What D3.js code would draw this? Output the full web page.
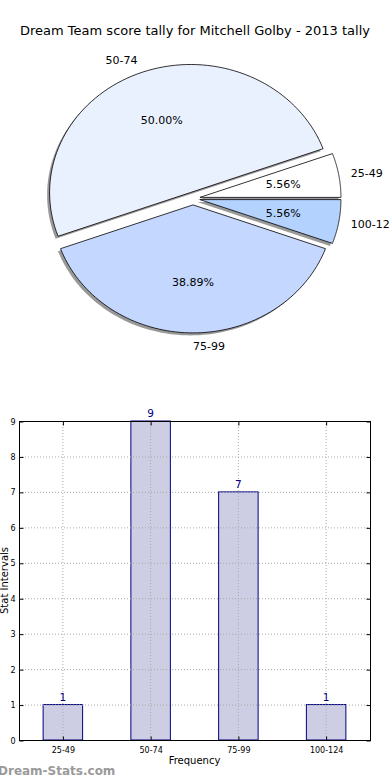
<!DOCTYPE html>
<html><head><meta charset="utf-8">
<script src="https://cdn.jsdelivr.net/npm/d3@7"></script>
<style>body{margin:0;background:#fff}svg{display:block}</style>
</head><body>
<script>
const title = "Dream Team score tally for Mitchell Golby - 2013 tally";
const categories = ["25-49", "50-74", "75-99", "100-124"];
const counts = [1, 9, 7, 1];
const pieColors = ["#ffffff", "#e9f0fe", "#c4d7fe", "#b3d3fe"];
const yTicks = [0, 1, 2, 3, 4, 5, 6, 7, 8, 9];
const xAxisLabel = "Frequency";
const yAxisLabel = "Stat Intervals";
const watermark = "Dream-Stats.com";

const W = 390, H = 780;
const svg = d3.select("body").append("svg").attr("width", W).attr("height", H);
const font = "DejaVu Sans, sans-serif";

svg.append("text").attr("x", 195).attr("y", 35).attr("text-anchor", "middle")
  .attr("font-family", font).attr("font-size", 13).attr("fill", "#000").text(title);

// ---- Pie (elliptical, matplotlib-style, counterclockwise from 3 o'clock) ----
const cx = 193, cy = 198.5, rx = 141, ry = 128, explode = 0.05;
const total = d3.sum(counts);
const angScale = d3.scaleLinear().domain([0, total]).range([0, 2 * Math.PI]);
let acc = 0;
const slices = counts.map((v, i) => {
  const a0 = angScale(acc); acc += v; const a1 = angScale(acc);
  return {cat: categories[i], v, a0, a1, mid: (a0 + a1) / 2, color: pieColors[i]};
});
function wedgePath(s, ox, oy) {
  const c = d3.path();
  c.moveTo(ox, oy);
  const n = 80;
  for (let k = 0; k <= n; k++) {
    const a = s.a0 + (s.a1 - s.a0) * k / n;
    c.lineTo(ox + rx * Math.cos(a), oy - ry * Math.sin(a));
  }
  c.closePath();
  return c.toString();
}
const gPie = svg.append("g");
slices.forEach(s => {
  s.ox = cx + explode * rx * Math.cos(s.mid);
  s.oy = cy - explode * ry * Math.sin(s.mid);
});
slices.forEach(s => {
  gPie.append("path").attr("d", wedgePath(s, s.ox - 2.5, s.oy + 2.5))
    .attr("fill", "rgba(0,0,0,0.4)").attr("stroke", "none");
});
slices.forEach(s => {
  gPie.append("path").attr("d", wedgePath(s, s.ox, s.oy))
    .attr("fill", s.color).attr("stroke", "#000").attr("stroke-width", 0.8)
    .attr("stroke-linejoin", "round");
});
slices.forEach(s => {
  const lx = s.ox + 1.1 * rx * Math.cos(s.mid) - (Math.cos(s.mid) > 0.5 ? 2 : 0);
  const ly = s.oy - 1.1 * ry * Math.sin(s.mid);
  const anchor = Math.cos(s.mid) < -1e-6 ? "end" : "start";
  gPie.append("text").attr("x", lx).attr("y", ly).attr("dy", "0.35em")
    .attr("text-anchor", anchor).attr("font-family", font).attr("font-size", 11)
    .text(s.cat);
  const px = s.ox + 0.6 * rx * Math.cos(s.mid);
  const py = s.oy - 0.6 * ry * Math.sin(s.mid);
  gPie.append("text").attr("x", px).attr("y", py).attr("dy", "0.35em")
    .attr("text-anchor", "middle").attr("font-family", font).attr("font-size", 11)
    .text((s.v / total * 100).toFixed(2) + "%");
});

// ---- Bar chart ----
const L = 19, R = 370, T = 421, B = 740;
const x = d3.scaleBand().domain(categories).range([L, R]).paddingInner(0.55).paddingOuter(0.275);
const y = d3.scaleLinear().domain([0, 9]).range([B, T]);
const gBar = svg.append("g");

gBar.selectAll("rect.bar").data(categories).enter().append("rect")
  .attr("x", d => x(d)).attr("y", (d, i) => y(counts[i]))
  .attr("width", x.bandwidth()).attr("height", (d, i) => B - y(counts[i]))
  .attr("fill", "#cdcde3").attr("stroke", "#000080").attr("stroke-width", 1);

gBar.selectAll("line.hg").data(yTicks).enter().append("line")
  .attr("x1", L).attr("x2", R).attr("y1", d => y(d) + 0.5).attr("y2", d => y(d) + 0.5)
  .attr("stroke", "#aaa").attr("stroke-width", 1).attr("stroke-dasharray", "1,2");
gBar.selectAll("line.vg").data(categories).enter().append("line")
  .attr("x1", d => x(d) + x.bandwidth() / 2).attr("x2", d => x(d) + x.bandwidth() / 2)
  .attr("y1", T).attr("y2", B)
  .attr("stroke", "#aaa").attr("stroke-width", 1).attr("stroke-dasharray", "1,2");

gBar.append("rect").attr("x", L + 0.5).attr("y", T + 0.5).attr("width", R - L).attr("height", B - T)
  .attr("fill", "none").attr("stroke", "#000").attr("stroke-width", 1);

const yAxis = d3.axisLeft(y).tickValues(yTicks).tickSize(-4).tickPadding(4).tickFormat(d3.format("d"));
const ya = gBar.append("g").attr("transform", `translate(${L + 0.5},0.5)`).call(yAxis);
ya.select(".domain").remove();
ya.selectAll("text").attr("font-family", font).attr("font-size", 8).attr("fill", "#000");
const yAxisR = d3.axisRight(y).tickValues(yTicks).tickSize(-4).tickFormat("");
const yr = gBar.append("g").attr("transform", `translate(${R + 0.5},0.5)`).call(yAxisR);
yr.select(".domain").remove();

const xAxis = d3.axisBottom(x).tickSize(-4).tickPadding(7);
const xa = gBar.append("g").attr("transform", `translate(0.5,${B + 0.5})`).call(xAxis);
xa.select(".domain").remove();
xa.selectAll("text").attr("font-family", font).attr("font-size", 8).attr("fill", "#000");
const xAxisT = d3.axisTop(x).tickSize(-4).tickFormat("");
const xt = gBar.append("g").attr("transform", `translate(0.5,${T + 0.5})`).call(xAxisT);
xt.select(".domain").remove();

gBar.selectAll("text.val").data(categories).enter().append("text")
  .attr("x", d => x(d) + x.bandwidth() / 2).attr("y", (d, i) => y(counts[i]) - 4)
  .attr("text-anchor", "middle").attr("font-family", font).attr("font-size", 10.5)
  .attr("fill", "#000080").text((d, i) => counts[i]);

svg.append("text").attr("x", (L + R) / 2).attr("y", 764).attr("text-anchor", "middle")
  .attr("font-family", font).attr("font-size", 10).text(xAxisLabel);
svg.append("text").attr("transform", `translate(8,${(T + B) / 2}) rotate(-90)`)
  .attr("text-anchor", "middle").attr("font-family", font).attr("font-size", 10).text(yAxisLabel);

svg.append("text").attr("x", -2).attr("y", 775).attr("font-family", font)
  .attr("font-size", 12).attr("font-weight", "bold").attr("fill", "#9a9a9a").text(watermark);
</script>
</body></html>
